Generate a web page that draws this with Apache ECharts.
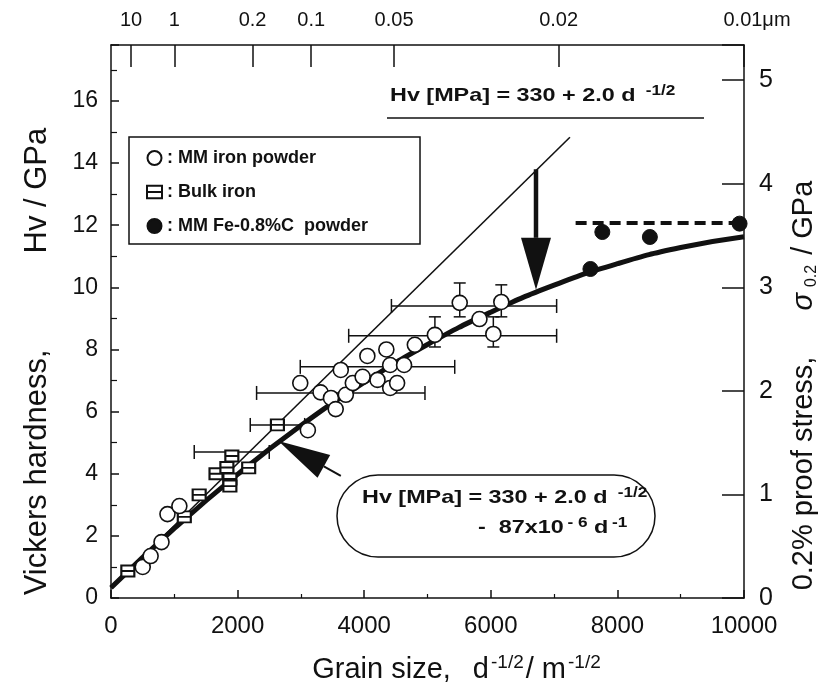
<!DOCTYPE html>
<html>
<head>
<meta charset="utf-8">
<script src="https://cdn.jsdelivr.net/npm/echarts@6/dist/echarts.min.js"></script>
<style>
  html, body { margin: 0; padding: 0; background: #fff; }
  #chart { width: 828px; height: 692px; }
</style>
</head>
<body>
<div id="chart"></div>
<script>
// ===== 数据 =====
// MM iron powder（空心圆）
const ironX = [501, 626, 798, 892, 1080, 2990, 3110, 3310, 3475, 3550, 3630, 3710, 3820, 3975, 4050, 4210,
  4350, 4410, 4410, 4520, 4630, 4800, 5117, 5509, 5821, 6040, 6166];
const ironY = [1.00, 1.35, 1.80, 2.70, 2.96, 6.92, 5.40, 6.62, 6.44, 6.08, 7.34, 6.54, 6.92, 7.12, 7.79, 7.02,
  8.00, 7.50, 6.76, 6.92, 7.50, 8.15, 8.47, 9.50, 8.98, 8.50, 9.53];

// Bulk iron（方块）
const bulkX = [266, 1158, 1393, 1659, 1831, 1878, 1878, 1909, 2175, 2629];
const bulkY = [0.87, 2.61, 3.32, 4.00, 4.20, 3.83, 3.60, 4.57, 4.19, 5.57];

// MM Fe-0.8%C powder（实心圆）
const fecX = [7574, 7762, 8513, 9930];
const fecY = [10.59, 11.78, 11.62, 12.05];

// 细直线 Hv = 330 + 2.0 d^-1/2
const hallX = [0, 7250];
const hallY = [0.33, 14.83];

// 粗曲线（读图取点）
const curveX = [0, 1000, 2000, 3000, 4000, 5000, 6000, 7000, 8000, 9000, 10000];
const curveY = [0.33, 2.24, 3.98, 5.55, 6.94, 8.16, 9.20, 10.07, 10.76, 11.28, 11.63];

// 虚线
const dashX = [7340, 10000];
const dashY = [12.07, 12.07];

// 水平误差棒 [y, xLow, xHigh]
const errH = [
  [9.40, 4430, 7040],
  [8.44, 3755, 7040],
  [7.44, 2990, 5430],
  [6.60, 2300, 4960],
  [5.57, 2200, 3060],
  [4.70, 1315, 2500]
];
// 垂直误差棒 [x, yLow, yHigh]
const errV = [
  [5509, 9.05, 10.14],
  [6166, 9.05, 10.08],
  [5117, 8.08, 9.05],
  [6040, 8.08, 9.05]
];

// 箭头 [尾x, 尾y, 尖x, 尖y]
const arrows = [
  [6714, 13.80, 6714, 9.92],
  [3631, 3.93, 2645, 5.05]
];

// 顶部粒径刻度
const topLabels = ['10', '1', '0.2', '0.1', '0.05', '0.02', '0.01\u03bcm'];
const topTickPos = [316, 1000, 2236, 3162, 4472, 7071, 10000];

// ===== 样式 =====
const FONT = '"Liberation Sans", Arial, Helvetica, sans-serif';
const INK = '#111';
const EQ_SCALE = 1.23;
const arrowStyle = [
  { headLen: 52, headW: 30, shaft: 4.5 },
  { headLen: 52, headW: 26, shaft: 2 }
];

function zip(xs, ys) {
  return xs.map(function (x, i) { return [x, ys[i]]; });
}

function renderHBar(params, api) {
  const y = api.value(0);
  const a = api.coord([api.value(1), y]);
  const b = api.coord([api.value(2), y]);
  const cap = 7;
  const st = { stroke: INK, lineWidth: 1.5 };
  return {
    type: 'group',
    children: [
      { type: 'line', shape: { x1: a[0], y1: a[1], x2: b[0], y2: b[1] }, style: st },
      { type: 'line', shape: { x1: a[0], y1: a[1] - cap, x2: a[0], y2: a[1] + cap }, style: st },
      { type: 'line', shape: { x1: b[0], y1: b[1] - cap, x2: b[0], y2: b[1] + cap }, style: st }
    ]
  };
}

function renderVBar(params, api) {
  const x = api.value(0);
  const a = api.coord([x, api.value(1)]);
  const b = api.coord([x, api.value(2)]);
  const cap = 6;
  const st = { stroke: INK, lineWidth: 1.5 };
  return {
    type: 'group',
    children: [
      { type: 'line', shape: { x1: a[0], y1: a[1], x2: b[0], y2: b[1] }, style: st },
      { type: 'line', shape: { x1: a[0] - cap, y1: a[1], x2: a[0] + cap, y2: a[1] }, style: st },
      { type: 'line', shape: { x1: b[0] - cap, y1: b[1], x2: b[0] + cap, y2: b[1] }, style: st }
    ]
  };
}

function renderArrow(params, api) {
  const s = arrowStyle[params.dataIndex];
  const p1 = api.coord([api.value(0), api.value(1)]);
  const p2 = api.coord([api.value(2), api.value(3)]);
  const dx = p2[0] - p1[0], dy = p2[1] - p1[1];
  const len = Math.sqrt(dx * dx + dy * dy);
  const ux = dx / len, uy = dy / len;
  const bx = p2[0] - ux * s.headLen, by = p2[1] - uy * s.headLen;
  const px = -uy * s.headW / 2, py = ux * s.headW / 2;
  return {
    type: 'group',
    children: [
      { type: 'line', shape: { x1: p1[0], y1: p1[1], x2: bx, y2: by }, style: { stroke: INK, lineWidth: s.shaft } },
      { type: 'polygon', shape: { points: [[p2[0], p2[1]], [bx + px, by + py], [bx - px, by - py]] }, style: { fill: INK } }
    ]
  };
}

const chart = echarts.init(document.getElementById('chart'), null, { renderer: 'canvas' });

const eqRich = {
  b: { fontSize: 19, fontWeight: 'bold', fontFamily: FONT, fill: INK, lineHeight: 24 },
  sup: { fontSize: 14, fontWeight: 'bold', fontFamily: FONT, fill: INK, verticalAlign: 'top', lineHeight: 14, padding: [0, 0, 0, 3] }
};

chart.setOption({
  animation: false,
  backgroundColor: '#fff',
  textStyle: { fontFamily: FONT, color: INK },
  grid: { left: 111, right: 78, top: 45, bottom: 94 },
  legend: {
    left: 129,
    top: 137,
    orient: 'vertical',
    padding: [12, 52, 9, 17],
    itemGap: 16,
    itemWidth: 15,
    itemHeight: 14,
    borderColor: INK,
    borderWidth: 1.5,
    borderRadius: 0,
    textStyle: { fontSize: 18, fontWeight: 'bold', color: INK, fontFamily: FONT },
    formatter: function (name) { return ': ' + name; },
    data: [
      { name: 'MM iron powder', icon: 'circle' },
      { name: 'Bulk iron', icon: 'path://M0,0L12,0L12,10L0,10ZM0,5L12,5' },
      { name: 'MM Fe-0.8%C  powder', icon: 'circle' }
    ]
  },
  xAxis: [
    {
      type: 'value',
      min: 0,
      max: 10000,
      interval: 2000,
      position: 'bottom',
      axisLine: { onZero: false, lineStyle: { color: INK, width: 1.5 } },
      axisTick: { inside: true, length: 8, lineStyle: { color: INK, width: 1.5 } },
      minorTick: { show: true, splitNumber: 2, length: 4, lineStyle: { color: INK, width: 1.2 } },
      splitLine: { show: false },
      axisLabel: {
        fontSize: 24, color: INK, margin: 16, fontFamily: FONT,
        formatter: function (v) { return String(v); }
      },
      name: '{a|Grain size,}{g| }{a|d}{sup|-1/2}{a|/ m}{sup|-1/2}',
      nameLocation: 'middle',
      nameGap: 55,
      nameTextStyle: {
        padding: [0, 0, 0, 60],
        rich: {
          a: { fontSize: 29, fontFamily: FONT, color: INK, lineHeight: 34 },
          g: { width: 22 },
          sup: { fontSize: 19, fontFamily: FONT, color: INK, verticalAlign: 'top', lineHeight: 18, padding: [0, 2, 0, 2] }
        }
      }
    },
    {
      type: 'value',
      min: 0,
      max: 10000,
      position: 'top',
      axisLine: { show: true, onZero: false, lineStyle: { color: INK, width: 1.5 } },
      axisTick: { show: true, inside: true, length: 22, customValues: topTickPos, lineStyle: { color: INK, width: 1.5 } },
      splitLine: { show: false },
      axisLabel: {
        fontSize: 20,
        color: INK,
        margin: 15,
        fontFamily: FONT,
        customValues: topTickPos,
        formatter: function (v) {
          const i = topTickPos.indexOf(v);
          if (i < 0) return '';
          return i === topLabels.length - 1 ? '{r|' + topLabels[i] + '}' : topLabels[i];
        },
        rich: {
          r: { fontSize: 20, fontFamily: FONT, color: INK, padding: [0, 0, 0, 26] }
        }
      }
    }
  ],
  yAxis: [
    {
      type: 'value',
      min: 0,
      max: 17.8,
      interval: 2,
      position: 'left',
      axisLine: { show: true, onZero: false, lineStyle: { color: INK, width: 1.5 } },
      axisTick: { show: true, inside: true, length: 8, lineStyle: { color: INK, width: 1.5 } },
      minorTick: { show: true, splitNumber: 2, length: 6, lineStyle: { color: INK, width: 1.2 } },
      splitLine: { show: false },
      axisLabel: {
        fontSize: 23, color: INK, margin: 13, fontFamily: FONT,
        formatter: function (v) { return v > 16.5 ? '' : String(v); }
      },
      name: '{a|Vickers hardness,}{g| }{a|Hv / GPa}',
      nameLocation: 'middle',
      nameRotate: 90,
      nameGap: 58,
      nameTextStyle: {
        padding: [0, 80, 0, 0],
        rich: {
          a: { fontSize: 31, fontFamily: FONT, color: INK },
          g: { width: 96 }
        }
      }
    },
    {
      type: 'value',
      min: 0,
      max: 5.34,
      interval: 1,
      position: 'right',
      axisLine: { show: true, onZero: false, lineStyle: { color: INK, width: 1.5 } },
      axisTick: { show: true, inside: true, length: 22, lineStyle: { color: INK, width: 1.5 } },
      splitLine: { show: false },
      axisLabel: {
        fontSize: 25, color: INK, margin: 15, fontFamily: FONT,
        formatter: function (v) { return v > 5.1 ? '' : String(v); }
      },
      name: '{a|0.2% proof stress,}{g| }{s|\u03c3}{sub|0.2}{a| / GPa}',
      nameLocation: 'middle',
      nameRotate: 90,
      nameGap: 44,
      nameTextStyle: {
        padding: [0, 128, 0, 0],
        rich: {
          a: { fontSize: 29, fontFamily: FONT, color: INK, lineHeight: 32 },
          s: { fontSize: 29, fontFamily: FONT, color: INK, fontStyle: 'italic', lineHeight: 32 },
          g: { width: 46 },
          sub: { fontSize: 16, fontFamily: FONT, color: INK, verticalAlign: 'bottom', lineHeight: 16, padding: [0, 2, 0, 6] }
        }
      }
    }
  ],
  graphic: [
    {
      type: 'text',
      x: 390,
      y: 84,
      z: 10,
      scaleX: EQ_SCALE,
      style: { text: '{b|Hv [MPa] = 330 + 2.0 d }{sup|-1/2}', rich: eqRich }
    },
    {
      type: 'line',
      z: 10,
      shape: { x1: 387, y1: 118, x2: 704, y2: 118 },
      style: { stroke: INK, lineWidth: 1.5 }
    },
    {
      type: 'rect',
      z: 10,
      shape: { x: 337, y: 475, width: 318, height: 82, r: 41 },
      style: { fill: '#fff', stroke: INK, lineWidth: 1.5 }
    },
    {
      type: 'text',
      x: 362,
      y: 486,
      z: 11,
      scaleX: EQ_SCALE,
      style: { text: '{b|Hv [MPa] = 330 + 2.0 d }{sup|-1/2}', rich: eqRich }
    },
    {
      type: 'text',
      x: 478,
      y: 516,
      z: 11,
      scaleX: EQ_SCALE,
      style: { text: '{b|-  87x10}{sup|- 6}{b| d}{sup|-1}', rich: eqRich }
    }
  ],
  series: [
    {
      name: 'hall',
      type: 'line',
      data: zip(hallX, hallY),
      symbol: 'none',
      lineStyle: { color: INK, width: 1.6 },
      z: 2,
      silent: true
    },
    {
      name: 'fit',
      type: 'line',
      data: zip(curveX, curveY),
      smooth: true,
      symbol: 'none',
      lineStyle: { color: INK, width: 5 },
      z: 2,
      silent: true
    },
    {
      name: 'dash',
      type: 'line',
      data: zip(dashX, dashY),
      symbol: 'none',
      lineStyle: { color: INK, width: 4, type: [11, 6] },
      z: 2,
      silent: true
    },
    {
      name: 'errH',
      type: 'custom',
      data: errH,
      encode: { x: [1, 2], y: 0 },
      renderItem: renderHBar,
      z: 3,
      silent: true
    },
    {
      name: 'errV',
      type: 'custom',
      data: errV,
      encode: { x: 0, y: [1, 2] },
      renderItem: renderVBar,
      z: 3,
      silent: true
    },
    {
      name: 'arrows',
      type: 'custom',
      data: arrows,
      encode: { x: [0, 2], y: [1, 3] },
      renderItem: renderArrow,
      z: 5,
      silent: true
    },
    {
      name: 'Bulk iron',
      type: 'scatter',
      data: zip(bulkX, bulkY),
      symbol: 'path://M0,0L12,0L12,10L0,10ZM0,5L12,5',
      symbolSize: [13, 11],
      itemStyle: { color: '#fff', borderColor: INK, borderWidth: 2, opacity: 1 },
      z: 4
    },
    {
      name: 'MM iron powder',
      type: 'scatter',
      data: zip(ironX, ironY),
      symbol: 'circle',
      symbolSize: 15,
      itemStyle: { color: '#fff', borderColor: INK, borderWidth: 1.6, opacity: 1 },
      z: 4
    },
    {
      name: 'MM Fe-0.8%C  powder',
      type: 'scatter',
      data: zip(fecX, fecY),
      symbol: 'circle',
      symbolSize: 15,
      itemStyle: { color: INK, borderColor: INK, borderWidth: 1, opacity: 1 },
      z: 4
    }
  ]
});

window.addEventListener('resize', function () { chart.resize(); });
</script>
</body>
</html>
